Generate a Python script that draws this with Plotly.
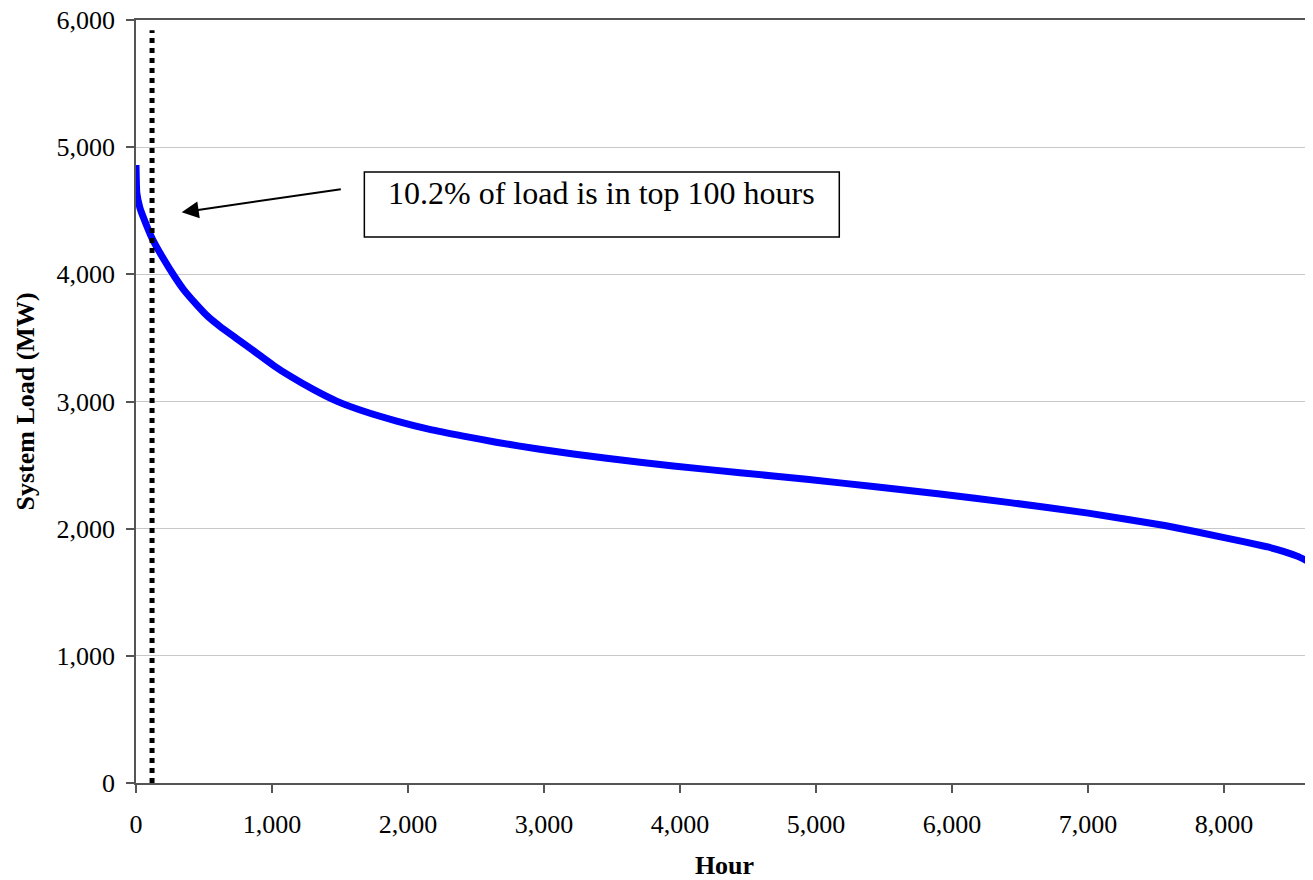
import plotly.graph_objects as go

# load duration curve
hours = [0, 6, 29, 56, 117, 203, 288, 350, 447, 532, 618, 740, 863, 1010, 1132, 1303,
         1475, 1670, 1917, 2159, 2407, 2648, 2970, 3461, 3951, 4441, 4931, 5421, 5912,
         6426, 7001, 7564, 7992, 8314, 8436, 8542, 8654]
load_mw = [4860, 4640, 4522, 4443, 4286, 4120, 3975, 3880, 3760, 3665, 3590, 3495, 3400,
           3285, 3200, 3095, 3003, 2925, 2846, 2781, 2728, 2680, 2624, 2553, 2493, 2440,
           2388, 2332, 2272, 2205, 2122, 2025, 1932, 1858, 1822, 1782, 1725]

# dotted marker for the top hours
cutoff_hours = [118, 118]
cutoff_mw = [0, 5920]

y_ticks = [0, 1000, 2000, 3000, 4000, 5000, 6000]
x_ticks = [0, 1000, 2000, 3000, 4000, 5000, 6000, 7000, 8000]

note_text = "10.2% of load is in top 100 hours"

FONT = "Liberation Serif"

fig = go.Figure()

fig.add_trace(go.Scatter(
    x=hours, y=load_mw, mode="lines",
    line=dict(color="#0000ff", width=7, shape="spline", smoothing=0.4),
    showlegend=False, hoverinfo="skip"))

fig.add_trace(go.Scatter(
    x=cutoff_hours, y=cutoff_mw, mode="lines",
    line=dict(color="black", width=5, dash="dot"),
    showlegend=False, hoverinfo="skip"))

# box round the note
fig.add_shape(type="rect", xref="x", yref="y",
              x0=1679, x1=5171, y0=4294, y1=4804,
              line=dict(color="black", width=1.5), fillcolor="white", layer="above")

fig.add_annotation(x=3425, y=4639, xref="x", yref="y", text=note_text,
                   showarrow=False, xanchor="center", yanchor="middle",
                   font=dict(family=FONT, size=32, color="black"))

# arrow pointing at the dotted line
fig.add_annotation(x=336, y=4488, xref="x", yref="y",
                   ax=1517, ay=4671, axref="x", ayref="y",
                   text="", showarrow=True, arrowhead=2, arrowsize=1.7,
                   arrowwidth=2, arrowcolor="black", standoff=0, startstandoff=0)

# page body has an 8px margin, so the figure is a bit smaller than the window
fig.update_layout(
    width=1305, height=872,
    margin=dict(l=128, r=0, t=12, b=97),
    paper_bgcolor="white", plot_bgcolor="white",
    font=dict(family=FONT, size=26, color="black"),
    showlegend=False,
)

fig.update_xaxes(
    range=[0, 8654], tickvals=x_ticks, tickformat=",",
    showgrid=False, zeroline=False, automargin=False,
    showline=True, linecolor="#555555", linewidth=1.5, mirror=True,
    ticks="outside", ticklen=8, tickcolor="#555555", tickwidth=1.5,
    ticklabelstandoff=9, ticklabeloverflow="allow",
    title=dict(text="<b>Hour</b>", font=dict(family=FONT, size=26), standoff=25),
)

fig.update_yaxes(
    range=[0, 6000], tickvals=y_ticks, tickformat=",",
    showgrid=True, gridcolor="#c8c8c8", gridwidth=1, zeroline=False, automargin=False,
    showline=True, linecolor="#555555", linewidth=1.5,
    ticks="outside", ticklen=8, tickcolor="#555555", tickwidth=1.5,
    ticklabelstandoff=6, ticklabeloverflow="allow",
    title=dict(text="<b>System Load (MW)</b>", font=dict(family=FONT, size=26), standoff=14),
)

fig.write_html("out.html")
